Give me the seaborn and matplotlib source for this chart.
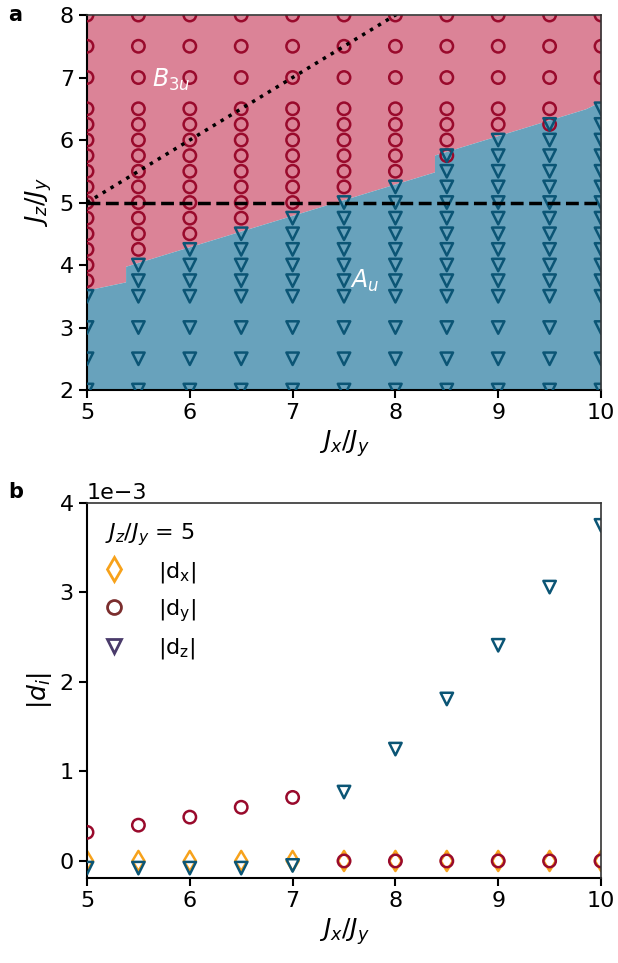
import numpy as np
import pandas as pd
import matplotlib
matplotlib.use("Agg")
import matplotlib.pyplot as plt
from matplotlib.lines import Line2D
import seaborn as sns

# --- panel a: phase diagram grid ---
JX_GRID = [5.0, 5.5, 6.0, 6.5, 7.0, 7.5, 8.0, 8.5, 9.0, 9.5, 10.0]
JZ_GRID = [2.0, 2.5, 3.0, 3.5, 3.75, 4.0, 4.25, 4.5, 4.75, 5.0, 5.25,
           5.5, 5.75, 6.0, 6.25, 6.5, 7.0, 7.5, 8.0]
# per Jx column: lowest Jz found in B3u, highest Jz found in Au
B3U_FROM = [3.75, 4.25, 4.5, 4.75, 5.0, 5.25, 5.5, 5.75, 6.25, 6.25, 7.0]
AU_UPTO = [3.5, 4.0, 4.25, 4.5, 4.75, 5.0, 5.25, 5.75, 6.0, 6.25, 6.5]

# shaded phase boundary
BOUND_X = [5.0, 5.375, 5.375, 8.38, 8.38, 9.85, 10.0]
BOUND_Y = [3.6, 3.73, 3.98, 5.49, 5.76, 6.5, 6.62]

CUT_JZ = 5.0
DIAG = [5.0, 10.0]

# --- panel b: |d_i| along Jz/Jy = 5 (in units of 1e-3) ---
CUT_JX = [5.0, 5.5, 6.0, 6.5, 7.0, 7.5, 8.0, 8.5, 9.0, 9.5, 10.0]
DX = [0.0, 0.0, 0.0, 0.0, 0.0, 0.0, 0.0, 0.0, 0.0, 0.0, 0.0]
DY = [0.32, 0.40, 0.49, 0.60, 0.71, 0.0, 0.0, 0.0, 0.0, 0.0, 0.0]
DZ = [-0.08, -0.08, -0.08, -0.08, -0.05, 0.77, 1.25, 1.81, 2.41, 3.06, 3.75]

RED = "#990a2c"
TEAL = "#0b5575"
ORANGE = "#f7a21b"
PINK = "#db8397"
BLUE = "#68a2bc"

TICK_FS = 16
LABEL_FS = 18

sns.set_theme(style="ticks")
plt.rcParams['font.family'] = ['DejaVu Sans']
plt.rcParams['mathtext.fontset'] = 'dejavusans'
for key in ('text.color', 'axes.labelcolor', 'xtick.color', 'ytick.color',
            'xtick.labelcolor', 'ytick.labelcolor'):
    plt.rcParams[key] = 'black'

rows = []
for jx, c_from, a_upto in zip(JX_GRID, B3U_FROM, AU_UPTO):
    for jz in JZ_GRID:
        if jz >= c_from:
            rows.append({'jx': jx, 'jz': jz, 'fase': 'B3u'})
        if jz <= a_upto:
            rows.append({'jx': jx, 'jz': jz, 'fase': 'Au'})
df_grid = pd.DataFrame(rows)

df_cut = pd.DataFrame({'jx': CUT_JX,
                       'dx': np.array(DX) * 1e-3,
                       'dy': np.array(DY) * 1e-3,
                       'dz': np.array(DZ) * 1e-3})

fig = plt.figure(figsize=(6.18, 9.63), dpi=100)
ax1 = fig.add_axes([0.1408, 0.595, 0.8317, 0.3894])
ax2 = fig.add_axes([0.1408, 0.0883, 0.8317, 0.3894])

# panel a
ax1.fill_between(BOUND_X, BOUND_Y, 8, color=PINK, lw=0, zorder=1)
ax1.fill_between(BOUND_X, 2, BOUND_Y, color=BLUE, lw=0, zorder=1)

sns.scatterplot(data=df_grid[df_grid['fase'] == 'B3u'], x='jx', y='jz',
                marker='o', s=80, facecolors='none', edgecolor=RED,
                linewidth=1.8, ax=ax1, zorder=3, legend=False)
sns.scatterplot(data=df_grid[df_grid['fase'] == 'Au'], x='jx', y='jz',
                marker='v', s=80, facecolors='none', edgecolor=TEAL,
                linewidth=1.8, ax=ax1, zorder=3, legend=False)

ax1.axhline(CUT_JZ, color='black', ls='--', lw=2.5, zorder=4)
sns.lineplot(x=DIAG, y=DIAG, color='black', ls=':', lw=2.5, ax=ax1, zorder=4)

ax1.text(5.63, 6.96, r'$B_{3u}$', color='white', fontsize=17, va='center', zorder=5)
ax1.text(7.56, 3.75, r'$A_u$', color='white', fontsize=17, va='center', zorder=5)

ax1.set_xlim(5, 10)
ax1.set_ylim(2, 8)
ax1.set_xticks([5, 6, 7, 8, 9, 10])
ax1.set_yticks([2, 3, 4, 5, 6, 7, 8])
ax1.set_xlabel(r'$J_x/J_y$', fontsize=LABEL_FS)
ax1.set_ylabel(r'$J_z/J_y$', fontsize=LABEL_FS)

# panel b
sns.scatterplot(data=df_cut, x='jx', y='dx', marker='d', s=105,
                facecolors='none', edgecolor=ORANGE, linewidth=1.8,
                ax=ax2, zorder=2, legend=False)
sns.scatterplot(data=df_cut, x='jx', y='dy', marker='o', s=80,
                facecolors='none', edgecolor=RED, linewidth=1.8,
                ax=ax2, zorder=3, legend=False)
sns.scatterplot(data=df_cut, x='jx', y='dz', marker='v', s=80,
                facecolors='none', edgecolor=TEAL, linewidth=1.8,
                ax=ax2, zorder=4, legend=False)

ax2.set_xlim(5, 10)
ax2.set_ylim(-0.19e-3, 4e-3)
ax2.set_xticks([5, 6, 7, 8, 9, 10])
ax2.set_yticks([0, 1e-3, 2e-3, 3e-3, 4e-3])
ax2.ticklabel_format(axis='y', style='sci', scilimits=(0, 0), useMathText=False)
ax2.set_xlabel(r'$J_x/J_y$', fontsize=LABEL_FS)
ax2.set_ylabel(r'$|d_i|$', fontsize=LABEL_FS)
ax2.yaxis.get_offset_text().set_fontsize(TICK_FS)

handles = [
    Line2D([], [], ls='', marker='d', ms=12, mfc='none', mec=ORANGE, mew=2.0),
    Line2D([], [], ls='', marker='o', ms=10, mfc='none', mec='#7b2e2e', mew=2.0),
    Line2D([], [], ls='', marker='v', ms=10, mfc='none', mec='#4a3b6b', mew=2.0),
]
labels = [r'|d$_\mathrm{x}$|', r'|d$_\mathrm{y}$|', r'|d$_\mathrm{z}$|']
leg = ax2.legend(handles, labels, loc='upper left', frameon=False,
                 title=r'$J_z/J_y$ = 5', title_fontsize=16, fontsize=16,
                 handlelength=0.8, handletextpad=1.6, labelspacing=0.55,
                 alignment='left', borderaxespad=0.4)

for ax in (ax1, ax2):
    ax.tick_params(direction='out', length=6, width=1.5, labelsize=TICK_FS, color='black')
    for side in ('left', 'bottom'):
        ax.spines[side].set_linewidth(1.5)
        ax.spines[side].set_color('black')
    for side in ('top', 'right'):
        ax.spines[side].set_visible(True)
        ax.spines[side].set_linewidth(1.2)
        ax.spines[side].set_color('#333333')
        ax.spines[side].set_zorder(6)

fig.text(0.013, 0.984, 'a', fontsize=15, fontweight='bold', va='center')
fig.text(0.013, 0.489, 'b', fontsize=15, fontweight='bold', va='center')

plt.savefig('out.png', dpi=100)
plt.close()
